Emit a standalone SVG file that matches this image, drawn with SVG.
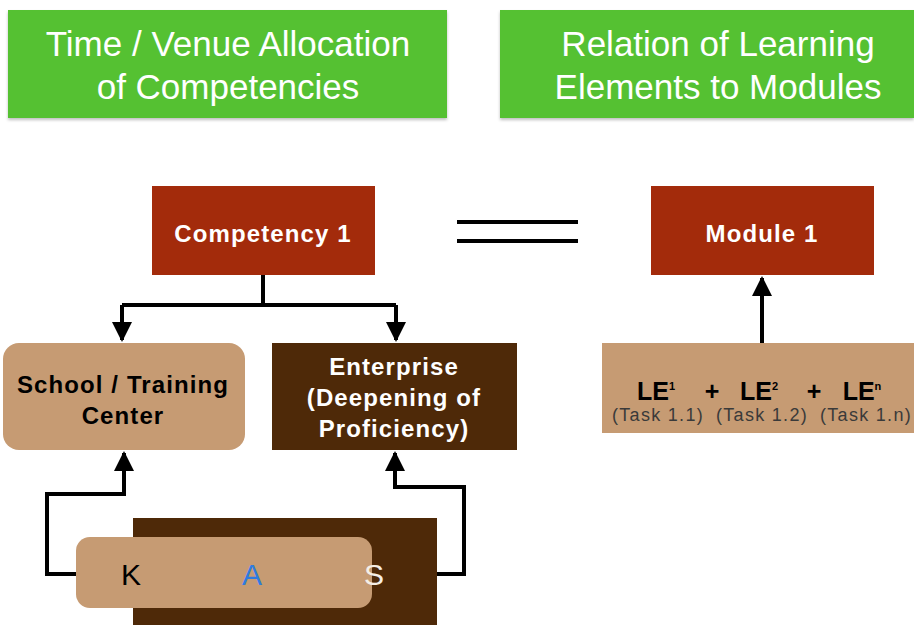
<svg xmlns="http://www.w3.org/2000/svg" width="914" height="625" viewBox="0 0 914 625">
  <defs>
    <marker id="arrow" viewBox="0 0 10 10" refX="9" refY="5" markerWidth="5" markerHeight="5" orient="auto" markerUnits="strokeWidth">
      <path d="M0,0 L10,5 L0,10 z" fill="#000"/>
    </marker>
    <filter id="shade" x="-5%" y="-5%" width="110%" height="115%">
      <feDropShadow dx="0" dy="2" stdDeviation="1.5" flood-color="#000" flood-opacity="0.25"/>
    </filter>
  </defs>
  <style>
    .title { font-family: "Liberation Sans", Arial, sans-serif; font-size: 35px; fill: #ffffff; text-anchor: middle; }
    .node { font-family: "Liberation Sans", Arial, sans-serif; font-size: 24px; font-weight: bold; letter-spacing: 1.1px; text-anchor: middle; }
    .le { font-family: "Liberation Sans", Arial, sans-serif; font-size: 25px; font-weight: bold; fill: #000000; text-anchor: middle; }
    .task { font-family: "Liberation Sans", Arial, sans-serif; font-size: 18px; letter-spacing: 1.3px; fill: #3a3a3a; text-anchor: middle; }
    .kas { font-family: "Liberation Sans", Arial, sans-serif; font-size: 30px; text-anchor: middle; }
    .green { fill: #55c133; }
    .red { fill: #a32b0b; }
    .tan { fill: #c69b73; }
    .brown { fill: #4e2908; }
    .line { fill: none; stroke: #000; stroke-width: 4; }
  </style>
  <rect width="914" height="625" fill="#ffffff"/>

  <g id="header-left">
    <rect class="green" x="8" y="10" width="439" height="108" filter="url(#shade)"/>
    <text class="title" x="228" y="56">Time / Venue Allocation</text>
    <text class="title" x="228" y="99">of Competencies</text>
  </g>

  <g id="header-right">
    <rect class="green" x="500" y="10" width="414" height="108" filter="url(#shade)"/>
    <text class="title" x="718" y="56">Relation of Learning</text>
    <text class="title" x="718" y="99">Elements to Modules</text>
  </g>

  <g id="competency">
    <rect class="red" x="152" y="186" width="223" height="89"/>
    <text class="node" x="263" y="242" fill="#ffffff">Competency 1</text>
  </g>

  <g id="equals">
    <line x1="457" y1="222" x2="578" y2="222" stroke="#000" stroke-width="4"/>
    <line x1="457" y1="241" x2="578" y2="241" stroke="#000" stroke-width="4"/>
  </g>

  <g id="module">
    <rect class="red" x="651" y="186" width="223" height="89"/>
    <text class="node" x="762" y="242" fill="#ffffff">Module 1</text>
  </g>

  <g id="learning-elements">
    <rect class="tan" x="602" y="343" width="320" height="90"/>
    <text class="le" x="656" y="400">LE<tspan dy="-10" style="font-size:11px">1</tspan></text>
    <text class="le" x="712" y="400">+</text>
    <text class="le" x="759" y="400">LE<tspan dy="-10" style="font-size:11px">2</tspan></text>
    <text class="le" x="814" y="400">+</text>
    <text class="le" x="862" y="400">LE<tspan dy="-10" style="font-size:11px">n</tspan></text>
    <text class="task" x="658" y="421">(Task 1.1)</text>
    <text class="task" x="762" y="421">(Task 1.2)</text>
    <text class="task" x="866" y="421">(Task 1.n)</text>
  </g>

  <g id="school">
    <rect class="tan" x="3" y="343" width="242" height="107" rx="16"/>
    <text class="node" x="123" y="393" fill="#000000">School / Training</text>
    <text class="node" x="123" y="424" fill="#000000">Center</text>
  </g>

  <g id="enterprise">
    <rect class="brown" x="272" y="343" width="245" height="107"/>
    <text class="node" x="394" y="375" fill="#ffffff">Enterprise</text>
    <text class="node" x="394" y="406" fill="#ffffff">(Deepening of</text>
    <text class="node" x="394" y="437" fill="#ffffff">Proficiency)</text>
  </g>

  <g id="kas">
    <rect class="brown" x="133" y="518" width="304" height="110"/>
    <rect class="tan" x="76" y="537" width="296" height="71" rx="14"/>
    <text class="kas" x="131" y="585" fill="#000000">K</text>
    <text class="kas" x="252" y="585" fill="#2f7be0">A</text>
    <text class="kas" x="374" y="585" fill="#f4eee6">S</text>
  </g>

  <g id="connectors">
    <path class="line" d="M263,275 V305"/>
    <path class="line" d="M122,305 H396"/>
    <path class="line" d="M122,305 V340" marker-end="url(#arrow)"/>
    <path class="line" d="M396,305 V340" marker-end="url(#arrow)"/>
    <path class="line" d="M762,343 V278" marker-end="url(#arrow)"/>
    <path class="line" d="M76,574 H47 V494 H124 V453" marker-end="url(#arrow)"/>
    <path class="line" d="M437,574 H464 V487 H395 V453" marker-end="url(#arrow)"/>
  </g>
</svg>
